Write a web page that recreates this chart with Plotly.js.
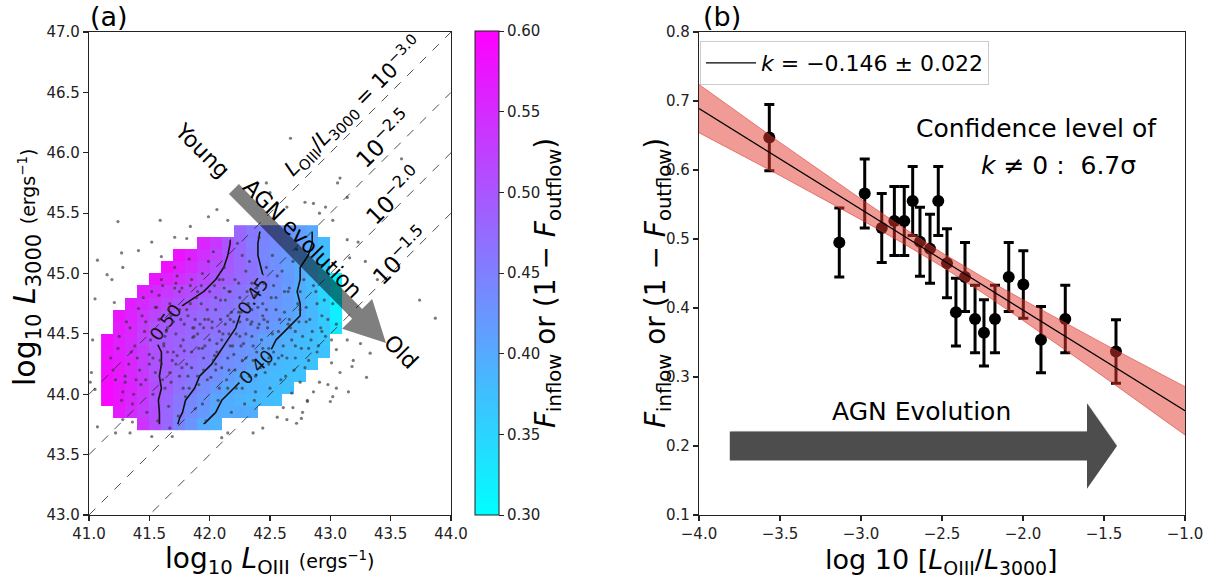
<!DOCTYPE html>
<html><head><meta charset="utf-8">
<script src="https://cdn.plot.ly/plotly-3.0.1.min.js"></script>
<style>html,body{margin:0;padding:0;background:#fff}#chart{width:1216px;height:582px}</style>
</head><body><div id="chart"></div>
<script>
// ---------- Panel (a) data ----------
const binX = [41.15,41.25,41.35,41.45,41.55,41.65,41.75,41.85,41.95,42.05,42.15,42.25,42.35,42.45,42.55,42.65,42.75,42.85,42.95,43.05];
const binY = [43.75,43.85,43.95,44.05,44.15,44.25,44.35,44.45,44.55,44.65,44.75,44.85,44.95,45.05,45.15,45.25,45.35];
const _ = null;
const fracGrid = [
 [_,_,_,0.54,0.51,0.48,0.445,0.425,0.40,0.39,_,_,_,_,_,_,_,_,_,_],
 [_,0.57,0.55,0.53,0.51,0.48,0.455,0.435,0.42,0.40,0.395,0.40,0.395,_,_,_,_,_,_,_],
 [0.59,0.575,0.555,0.535,0.505,0.485,0.46,0.44,0.425,0.405,0.395,0.39,0.385,0.38,0.375,_,_,_,_,_],
 [0.59,0.575,0.56,0.54,0.51,0.49,0.47,0.455,0.435,0.42,0.405,0.395,0.39,0.385,0.38,0.375,_,_,_,_],
 [0.585,0.57,0.555,0.535,0.505,0.49,0.475,0.46,0.445,0.435,0.42,0.405,0.395,0.385,0.38,0.375,0.37,_,_,_],
 [0.58,0.57,0.555,0.53,0.505,0.495,0.48,0.47,0.46,0.445,0.435,0.425,0.41,0.395,0.385,0.38,0.375,0.37,_,_],
 [0.58,0.565,0.55,0.53,0.505,0.495,0.485,0.475,0.465,0.455,0.44,0.43,0.42,0.405,0.395,0.385,0.38,0.375,0.37,_],
 [0.585,0.565,0.55,0.525,0.50,0.49,0.485,0.475,0.47,0.46,0.45,0.44,0.425,0.41,0.40,0.39,0.38,0.375,0.365,_],
 [_,0.57,0.555,0.53,0.505,0.495,0.49,0.48,0.475,0.47,0.46,0.445,0.435,0.425,0.415,0.40,0.39,0.38,0.365,0.33],
 [_,0.575,0.56,0.54,0.52,0.50,0.49,0.485,0.475,0.47,0.46,0.45,0.445,0.435,0.425,0.41,0.40,0.385,0.36,0.32],
 [_,_,0.565,0.55,0.535,0.52,0.505,0.495,0.485,0.475,0.465,0.455,0.445,0.435,0.425,0.415,0.40,0.38,0.355,0.315],
 [_,_,_,0.565,0.55,0.535,0.52,0.51,0.50,0.49,0.475,0.465,0.455,0.44,0.43,0.415,0.395,0.38,0.35,0.31],
 [_,_,_,_,0.575,0.56,0.545,0.53,0.515,0.50,0.49,0.475,0.465,0.45,0.435,0.42,0.40,0.38,0.35,0.315],
 [_,_,_,_,_,0.58,0.565,0.55,0.53,0.51,0.495,0.48,0.465,0.445,0.43,0.415,0.40,0.38,0.355,_],
 [_,_,_,_,_,_,0.58,0.565,0.545,0.525,0.50,0.48,0.46,0.44,0.43,0.42,0.41,0.395,0.37,_],
 [_,_,_,_,_,_,_,_,0.555,0.535,0.505,0.48,0.455,0.445,0.435,0.425,0.415,0.40,0.38,_],
 [_,_,_,_,_,_,_,_,_,_,_,0.48,0.46,0.445,0.435,0.425,0.415,0.40,_,_]
];
const contourLevels = [0.40, 0.45, 0.50];
const ratioLevels = [-3.0, -2.5, -2.0, -1.5];
const ratioLabels = ["<i>L</i><sub>OIII</sub>/<i>L</i><sub>3000</sub> = 10<sup>−3.0</sup>", "10<sup>−2.5</sup>", "10<sup>−2.0</sup>", "10<sup>−1.5</sup>"];
const ratioLabelX = [43.19, 43.44, 43.52, 43.58];
const ratioLabelY = [46.39, 46.12, 45.65, 45.15];

const dotX = [41.05,41.07,41.27,41.41,41.52,41.05,41.01,41.07,41.28,41.36,41.34,41.69,42.10,42.15,42.56,42.61,42.69,42.76,42.81,42.86,42.91,42.98,43.05,43.14,43.25,43.33,43.19,43.02,43.08,43.30,43.39,43.29,43.14,43.02,42.91,42.86,42.64,42.06,42.15,41.84,41.71,41.59,41.28,41.19,41.03,41.02,41.24,41.81,41.60,41.15,41.21,41.22,41.52,41.67,41.99,43.23,43.16,43.01,43.05,42.81,42.77,42.64,42.72,42.44,42.36,42.68,42.75,43.00,43.18,43.15,42.67,43.08,43.06,43.59,42.96,42.79,43.14,42.47,42.50,43.74,43.87,
 41.18,41.22,41.25,41.28,41.31,41.33,41.36,41.38,41.41,41.43,41.46,41.48,41.50,41.52,41.55,41.57,41.58,41.60,41.62,41.63,41.66,41.67,41.69,41.71,41.72,41.74,41.75,41.77,41.79,41.80,41.82,41.83,41.85,41.86,41.88,41.89,41.91,41.92,41.94,41.95,41.97,41.98,42.00,42.01,42.03,42.04,42.06,42.07,42.09,42.10,42.12,42.13,42.15,42.16,42.18,42.20,42.21,42.23,42.24,42.26,42.28,42.29,42.31,42.33,42.34,42.36,42.38,42.40,42.41,42.43,42.45,42.46,42.48,42.50,42.52,42.53,42.55,42.57,42.59,42.60,42.62,42.64,42.66,42.68,42.70,42.72,42.74,42.76,42.78,42.80,42.82,42.85,42.88,42.90,42.93,42.96,42.99,43.02,43.05,
 41.70,41.90,42.10,42.20,41.85,42.05,41.95,42.25,41.65,42.35,41.78,42.15,42.00,41.88,42.30,41.60,42.40,42.08,41.75,42.18,
 41.20,41.24,41.30,41.34,41.37,41.40,41.44,41.47,41.51,41.53,41.56,41.59,41.61,41.64,41.68,41.70,41.73,41.76,41.78,41.81,41.84,41.87,41.90,41.93,41.96,41.99,42.02,42.05,42.08,42.11,42.14,42.17,42.19,42.22,42.25,42.27,42.30,42.32,42.35,42.37,42.39,42.42,42.44,42.47,42.49,42.51,42.54,42.56,42.58,42.61,42.63,42.65,42.67,42.69,42.71,42.73,42.77,42.79,42.83,42.86,42.89,42.92,42.95,42.98,43.01,
 41.62,41.68,41.73,41.79,41.84,41.87,41.91,41.96,42.02,42.06,42.09,42.13,42.17,42.22,42.26,42.31,42.36,42.41,42.47,42.52,41.71,41.82,41.93,42.04,42.16,42.27,42.38,42.49,41.66,41.77,41.98,42.11,42.24,42.33,42.44,
 41.30,41.35,41.42,41.47,41.53,41.58,41.63,41.67,41.72,41.76,41.81,41.86,41.90,41.94,41.99,42.03,42.08,42.12,42.17,42.21,42.26,42.30,42.35,42.39,42.44,42.48,42.53,42.57,42.62,42.66,42.71,42.75,42.80,42.84,42.89,
 41.27,41.39,41.50,41.61,41.72,41.83,41.94,42.05,42.16,42.27,42.38,42.49,42.60,42.71,42.82,42.93,
 41.45,41.55,41.65,41.75,41.85,41.95,42.05,42.15,42.25,42.35,42.45,42.55,42.65,42.75];
const dotY = [44.79,45.11,45.17,45.19,45.26,44.04,44.10,43.73,43.79,43.77,43.68,43.65,43.64,43.68,43.81,43.89,43.89,43.80,43.95,44.02,44.10,44.08,44.37,44.45,44.42,44.34,44.28,43.98,44.18,44.14,44.95,45.10,45.28,45.44,45.50,45.58,45.55,45.53,45.44,45.39,45.30,45.44,45.05,44.95,44.45,44.18,45.43,45.29,45.14,44.99,44.76,43.68,43.65,43.72,45.47,45.26,45.13,44.26,44.05,43.94,43.85,43.79,43.76,43.72,43.68,44.01,44.10,43.94,44.23,44.02,46.12,45.79,45.75,45.95,45.55,45.59,45.63,45.75,45.67,44.78,44.63,
 44.30,44.12,44.48,44.02,44.60,44.25,43.92,44.40,44.71,44.08,44.52,43.85,44.33,44.85,44.18,43.78,44.62,44.95,44.40,44.05,43.90,44.75,44.28,45.05,44.50,43.82,44.15,44.88,44.36,43.98,44.65,45.12,44.22,44.47,43.88,44.80,44.08,44.58,45.00,44.30,43.78,44.70,44.45,44.14,45.18,44.90,44.35,43.95,44.62,44.22,45.05,44.78,44.05,44.50,43.85,44.33,44.95,45.25,44.68,44.15,44.42,43.92,44.85,45.10,44.58,44.28,44.02,44.72,45.30,44.45,44.92,44.18,44.60,44.05,45.15,44.35,44.80,44.52,44.12,45.02,44.68,44.30,44.88,44.45,44.20,45.20,44.60,44.38,44.95,44.72,44.28,44.52,44.85,44.40,44.65,44.48,45.05,44.75,44.58,
 44.60,44.50,44.45,44.60,44.35,44.70,44.20,44.80,44.55,44.70,44.45,44.30,44.85,44.62,44.50,44.25,44.55,44.05,44.70,44.68,
 44.20,44.38,44.15,44.55,44.00,44.30,44.65,44.12,44.45,44.00,44.72,44.28,44.90,44.52,44.10,44.35,44.98,44.62,44.05,44.25,44.90,44.55,44.15,44.75,44.40,45.10,44.60,44.25,44.95,44.50,44.12,44.85,44.40,44.05,44.60,45.15,44.30,44.75,44.48,43.95,44.88,44.22,44.65,45.05,44.38,44.80,44.25,44.98,44.62,44.40,44.15,44.85,44.55,45.10,44.30,44.75,44.48,44.22,44.62,44.90,44.35,44.55,44.78,44.62,44.45,
 44.42,44.65,44.32,44.58,44.75,44.48,44.38,44.62,44.55,44.42,44.78,44.58,44.40,44.50,44.68,44.62,44.40,44.58,44.70,44.50,44.88,44.15,44.90,44.32,44.85,44.28,44.82,44.30,44.70,44.22,44.12,44.95,44.92,44.15,44.38,
 44.10,44.35,44.20,44.60,44.30,44.82,44.48,44.18,44.92,44.40,44.70,44.55,44.85,44.38,44.62,44.28,44.52,44.88,44.62,44.20,44.40,45.02,44.60,44.35,44.75,44.55,44.90,44.30,44.85,44.62,44.40,44.85,44.60,44.45,44.75,
 43.95,44.12,44.25,44.12,44.25,44.05,43.92,44.20,44.20,44.05,44.15,44.25,44.32,44.52,44.38,44.52,
 44.80,44.72,44.35,44.85,44.95,44.55,44.80,44.65,44.48,44.92,44.62,44.70,44.58,44.70];

// ---------- Panel (b) data ----------
const ratioX = [-3.566,-3.134,-2.977,-2.872,-2.794,-2.733,-2.681,-2.636,-2.574,-2.523,-2.469,-2.414,-2.358,-2.296,-2.241,-2.173,-2.088,-1.998,-1.889,-1.739,-1.426];
const fracY  = [0.647,0.495,0.566,0.516,0.526,0.526,0.555,0.496,0.486,0.555,0.465,0.394,0.445,0.384,0.364,0.384,0.445,0.434,0.354,0.384,0.337];
const fracErr= [0.048,0.050,0.050,0.050,0.050,0.050,0.050,0.050,0.050,0.050,0.050,0.049,0.050,0.049,0.048,0.049,0.050,0.049,0.048,0.049,0.046];
const fitK = -0.146, fitKErr = 0.022, fitIntercept = 0.105;
const bandX  = [-4.0,-3.5,-3.0,-2.75,-2.5,-2.25,-2.0,-1.5,-1.0];
const bandHi = [0.724,0.640,0.558,0.518,0.480,0.445,0.412,0.348,0.286];
const bandLo = [0.654,0.592,0.528,0.495,0.460,0.422,0.382,0.300,0.216];

// ---------- layout helpers ----------
const W = 1216, H = 582;
const px = v => v / W, py = v => 1 - v / H;
const FONT = "DejaVu Sans, Liberation Sans, sans-serif";

const traces = [];
traces.push({type:'heatmap', x:binX, y:binY, z:fracGrid, xaxis:'x', yaxis:'y',
  colorscale:[[0,'#00ffff'],[1,'#ff00ff']], zmin:0.30, zmax:0.60, zsmooth:false, hoverinfo:'skip',
  colorbar:{x:px(475), xanchor:'left', xpad:0, y:py(515), yanchor:'bottom', ypad:0, len:484/H, lenmode:'fraction',
    thickness:24, thicknessmode:'pixels', outlinewidth:1, outlinecolor:'#222',
    tickvals:[0.30,0.35,0.40,0.45,0.50,0.55,0.60], tickformat:'.2f', ticks:'outside', ticklen:5,
    tickcolor:'#222', tickfont:{family:FONT, size:15, color:'#222'}}
});
traces.push({type:'scatter', mode:'markers', x:dotX, y:dotY, xaxis:'x', yaxis:'y', hoverinfo:'skip',
  marker:{size:3.2, color:'rgba(50,50,50,0.65)'}, showlegend:false});
traces.push({type:'contour', x:binX, y:binY, z:fracGrid, xaxis:'x', yaxis:'y', showscale:false, hoverinfo:'skip',
  contours:{coloring:'none', start:contourLevels[0], end:contourLevels[contourLevels.length-1], size:0.05,
    showlabels:true, labelformat:'.2f', labelfont:{family:FONT, size:18, color:'#111'}},
  line:{color:'#111', width:1.6, smoothing:0}, showlegend:false});
ratioLevels.forEach(c => {
  traces.push({type:'scatter', mode:'lines', x:[41,44], y:[41-c,44-c], xaxis:'x', yaxis:'y', hoverinfo:'skip',
    line:{color:'#222', width:0.8, dash:'dash'}, showlegend:false});
});

// panel b
traces.push({type:'scatter', mode:'markers', x:ratioX, y:fracY, xaxis:'x2', yaxis:'y2', showlegend:false,
  marker:{size:12, color:'#000'},
  error_y:{type:'data', array:fracErr, visible:true, color:'#000', thickness:3, width:5}});
traces.push({type:'scatter', mode:'lines', x:bandX, y:bandLo, xaxis:'x2', yaxis:'y2', showlegend:false, hoverinfo:'skip',
  line:{color:'rgba(215,50,40,0.55)', width:1}});
traces.push({type:'scatter', mode:'lines', x:bandX, y:bandHi, xaxis:'x2', yaxis:'y2', showlegend:false, hoverinfo:'skip',
  fill:'tonexty', fillcolor:'rgba(225,55,45,0.5)', line:{color:'rgba(215,50,40,0.55)', width:1}});
traces.push({type:'scatter', mode:'lines', x:[-4,-1], y:[fitIntercept+fitK*(-4), fitIntercept+fitK*(-1)],
  xaxis:'x2', yaxis:'y2', name:'<i>k</i> = −0.146 ± 0.022', showlegend:true, line:{color:'#000', width:1.2}});

// arrows
function arrowPath(sx, sy, tx, ty, shaftHalf, headHalf, headLen) {
  const dx = tx - sx, dy = ty - sy, L = Math.hypot(dx, dy);
  const ux = dx / L, uy = dy / L, nx = -uy, ny = ux;
  const bx = tx - ux * headLen, by = ty - uy * headLen;
  const pts = [
    [sx + nx*shaftHalf, sy + ny*shaftHalf], [bx + nx*shaftHalf, by + ny*shaftHalf],
    [bx + nx*headHalf, by + ny*headHalf], [tx, ty],
    [bx - nx*headHalf, by - ny*headHalf], [bx - nx*shaftHalf, by - ny*shaftHalf],
    [sx - nx*shaftHalf, sy - ny*shaftHalf]];
  return 'M ' + pts.map(p => p[0].toFixed(4) + ',' + p[1].toFixed(4)).join(' L ') + ' Z';
}
const shapes = [
  {type:'path', xref:'x', yref:'y', path:arrowPath(42.201, 45.700, 43.461, 44.424, 0.058, 0.175, 0.34),
   fillcolor:'rgba(0,0,0,0.5)', line:{width:0}, layer:'above'},
  {type:'path', xref:'x2', yref:'y2', path:'M -3.80,0.182 L -1.60,0.182 L -1.60,0.142 L -1.42,0.202 L -1.60,0.262 L -1.60,0.222 L -3.80,0.222 Z',
   fillcolor:'rgba(0,0,0,0.12)', line:{width:0}},
  {type:'path', xref:'x2', yref:'y2', path:'M -3.81,0.179 L -1.605,0.179 L -1.605,0.138 L -1.42,0.200 L -1.605,0.262 L -1.605,0.221 L -3.81,0.221 Z',
   fillcolor:'#4d4d4d', line:{width:0}}
];

const ann = [];
const txt = (text, x, y, size, extra) => Object.assign({text, x, y, xref:'paper', yref:'paper', showarrow:false,
  font:{family:FONT, size, color:'#000'}, xanchor:'center', yanchor:'middle'}, extra||{});
ann.push(txt('(a)', px(109), py(16), 27));
ann.push(txt('(b)', px(722), py(16), 27));
ann.push(txt("log<sub>10</sub> <i>L</i><sub>3000</sub> <span style='font-size:19px'>(ergs<sup>−1</sup>)</span>", px(27), py(268), 30, {textangle:-90}));
ann.push(txt("log<sub>10</sub> <i>L</i><sub>OIII</sub> <span style='font-size:19px'>(ergs<sup>−1</sup>)</span>", px(269), py(560), 28));
ann.push(txt("<i>F</i><sub>inflow</sub> or (1 − <i>F</i><sub>outflow</sub>)", px(547), py(283), 28, {textangle:-90}));
ann.push(txt("<i>F</i><sub>inflow</sub> or (1 − <i>F</i><sub>outflow</sub>)", px(657), py(283), 28, {textangle:-90}));
ann.push(txt("log 10 [<i>L</i><sub>OIII</sub>/<i>L</i><sub>3000</sub>]", px(941), py(561), 27));
ann.push(txt("Confidence level of", px(1036), py(128), 25));
ann.push(txt("<i>k</i> ≠ 0 :  6.7σ", px(1058), py(165), 25));
ann.push(txt("AGN Evolution", px(921), py(411), 25));
ratioLabels.forEach((t, i) => ann.push({text:t, x:ratioLabelX[i], y:ratioLabelY[i], xref:'x', yref:'y', showarrow:false,
  textangle:-45, font:{family:FONT, size: i===0 ? 21 : 23, color:'#000'}}));
[['Young',41.94,46.02],['AGN evolution',42.77,45.29],['Old',43.58,44.35]].forEach(a =>
  ann.push({text:a[0], x:a[1], y:a[2], xref:'x', yref:'y', showarrow:false, textangle:45,
    font:{family:FONT, size:22, color:'#000'}}));

const axBase = {showgrid:false, zeroline:false, showline:true, mirror:true, linecolor:'#222', linewidth:1.2,
  ticks:'outside', ticklen:5, tickwidth:1.2, tickcolor:'#222', tickfont:{family:FONT, size:15, color:'#222'}};
const layout = {
  width:W, height:H, margin:{l:0, r:0, t:0, b:0}, paper_bgcolor:'#fff', plot_bgcolor:'#fff',
  font:{family:FONT},
  xaxis: Object.assign({}, axBase, {domain:[px(89), px(451)], range:[41,44], dtick:0.5, tickformat:'.1f', anchor:'y'}),
  yaxis: Object.assign({}, axBase, {domain:[py(515), py(32)], range:[43,47], dtick:0.5, tickformat:'.1f', anchor:'x'}),
  xaxis2: Object.assign({}, axBase, {domain:[px(699), px(1185)], range:[-4,-1], dtick:0.5, tickformat:'.1f', anchor:'y2'}),
  yaxis2: Object.assign({}, axBase, {domain:[py(515), py(32)], range:[0.1,0.8], dtick:0.1, tickformat:'.1f', anchor:'x2'}),
  showlegend:true,
  legend:{x:px(700), y:py(41), xanchor:'left', yanchor:'top', bgcolor:'rgba(255,255,255,0.9)', bordercolor:'#ccc', borderwidth:1,
    font:{family:FONT, size:22, color:'#000'}, itemwidth:50},
  shapes, annotations:ann
};
Plotly.newPlot('chart', traces, layout, {staticPlot:true, displayModeBar:false});
</script></body></html>
